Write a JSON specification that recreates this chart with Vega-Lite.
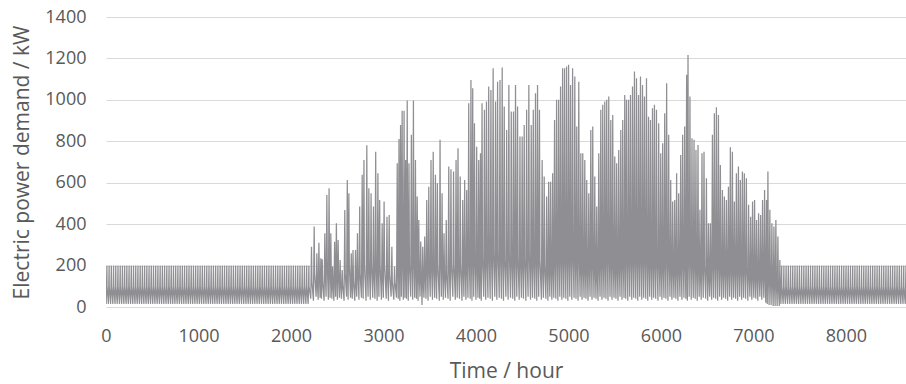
{
"$schema":"https://vega.github.io/schema/vega-lite/v6.json",
"width":800,"height":290,"autosize":"none",
"padding":{"left":106,"top":17,"right":0,"bottom":77},
"background":"white",
"config":{"view":{"stroke":null},"font":"Open Sans"},
"data":{"values":[
{"t":2,"p":15},{"t":10,"p":200},{"t":11,"p":100},
{"t":26,"p":15},{"t":34,"p":200},{"t":35,"p":100},
{"t":50,"p":15},{"t":58,"p":200},{"t":59,"p":100},
{"t":74,"p":15},{"t":82,"p":200},{"t":83,"p":100},
{"t":98,"p":15},{"t":106,"p":200},{"t":107,"p":100},
{"t":122,"p":15},{"t":130,"p":200},{"t":131,"p":100},
{"t":146,"p":15},{"t":154,"p":200},{"t":155,"p":100},
{"t":170,"p":15},{"t":178,"p":200},{"t":179,"p":100},
{"t":194,"p":15},{"t":202,"p":200},{"t":203,"p":100},
{"t":218,"p":15},{"t":226,"p":200},{"t":227,"p":100},
{"t":242,"p":15},{"t":250,"p":200},{"t":251,"p":100},
{"t":266,"p":15},{"t":274,"p":200},{"t":275,"p":100},
{"t":290,"p":15},{"t":298,"p":200},{"t":299,"p":100},
{"t":314,"p":15},{"t":322,"p":200},{"t":323,"p":100},
{"t":338,"p":15},{"t":346,"p":200},{"t":347,"p":100},
{"t":362,"p":15},{"t":370,"p":200},{"t":371,"p":100},
{"t":386,"p":15},{"t":394,"p":200},{"t":395,"p":100},
{"t":410,"p":15},{"t":418,"p":200},{"t":419,"p":100},
{"t":434,"p":15},{"t":442,"p":200},{"t":443,"p":100},
{"t":458,"p":15},{"t":466,"p":200},{"t":467,"p":100},
{"t":482,"p":15},{"t":490,"p":200},{"t":491,"p":100},
{"t":506,"p":15},{"t":514,"p":200},{"t":515,"p":100},
{"t":530,"p":15},{"t":538,"p":200},{"t":539,"p":100},
{"t":554,"p":15},{"t":562,"p":200},{"t":563,"p":100},
{"t":578,"p":15},{"t":586,"p":200},{"t":587,"p":100},
{"t":602,"p":15},{"t":610,"p":200},{"t":611,"p":100},
{"t":626,"p":15},{"t":634,"p":200},{"t":635,"p":100},
{"t":650,"p":15},{"t":658,"p":200},{"t":659,"p":100},
{"t":674,"p":15},{"t":682,"p":200},{"t":683,"p":100},
{"t":698,"p":15},{"t":706,"p":200},{"t":707,"p":100},
{"t":722,"p":15},{"t":730,"p":200},{"t":731,"p":100},
{"t":746,"p":15},{"t":754,"p":200},{"t":755,"p":100},
{"t":770,"p":15},{"t":778,"p":200},{"t":779,"p":100},
{"t":794,"p":15},{"t":802,"p":200},{"t":803,"p":100},
{"t":818,"p":15},{"t":826,"p":200},{"t":827,"p":100},
{"t":842,"p":15},{"t":850,"p":200},{"t":851,"p":100},
{"t":866,"p":15},{"t":874,"p":200},{"t":875,"p":100},
{"t":890,"p":15},{"t":898,"p":200},{"t":899,"p":100},
{"t":914,"p":15},{"t":922,"p":200},{"t":923,"p":100},
{"t":938,"p":15},{"t":946,"p":200},{"t":947,"p":100},
{"t":962,"p":15},{"t":970,"p":200},{"t":971,"p":100},
{"t":986,"p":15},{"t":994,"p":200},{"t":995,"p":100},
{"t":1010,"p":15},{"t":1018,"p":200},{"t":1019,"p":100},
{"t":1034,"p":15},{"t":1042,"p":200},{"t":1043,"p":100},
{"t":1058,"p":15},{"t":1066,"p":200},{"t":1067,"p":100},
{"t":1082,"p":15},{"t":1090,"p":200},{"t":1091,"p":100},
{"t":1106,"p":15},{"t":1114,"p":200},{"t":1115,"p":100},
{"t":1130,"p":15},{"t":1138,"p":200},{"t":1139,"p":100},
{"t":1154,"p":15},{"t":1162,"p":200},{"t":1163,"p":100},
{"t":1178,"p":15},{"t":1186,"p":200},{"t":1187,"p":100},
{"t":1202,"p":15},{"t":1210,"p":200},{"t":1211,"p":100},
{"t":1226,"p":15},{"t":1234,"p":200},{"t":1235,"p":100},
{"t":1250,"p":15},{"t":1258,"p":200},{"t":1259,"p":100},
{"t":1274,"p":15},{"t":1282,"p":200},{"t":1283,"p":100},
{"t":1298,"p":15},{"t":1306,"p":200},{"t":1307,"p":100},
{"t":1322,"p":15},{"t":1330,"p":200},{"t":1331,"p":100},
{"t":1346,"p":15},{"t":1354,"p":200},{"t":1355,"p":100},
{"t":1370,"p":15},{"t":1378,"p":200},{"t":1379,"p":100},
{"t":1394,"p":15},{"t":1402,"p":200},{"t":1403,"p":100},
{"t":1418,"p":15},{"t":1426,"p":200},{"t":1427,"p":100},
{"t":1442,"p":15},{"t":1450,"p":200},{"t":1451,"p":100},
{"t":1466,"p":15},{"t":1474,"p":200},{"t":1475,"p":100},
{"t":1490,"p":15},{"t":1498,"p":200},{"t":1499,"p":100},
{"t":1514,"p":15},{"t":1522,"p":200},{"t":1523,"p":100},
{"t":1538,"p":15},{"t":1546,"p":200},{"t":1547,"p":100},
{"t":1562,"p":15},{"t":1570,"p":200},{"t":1571,"p":100},
{"t":1586,"p":15},{"t":1594,"p":200},{"t":1595,"p":100},
{"t":1610,"p":15},{"t":1618,"p":200},{"t":1619,"p":100},
{"t":1634,"p":15},{"t":1642,"p":200},{"t":1643,"p":100},
{"t":1658,"p":15},{"t":1666,"p":200},{"t":1667,"p":100},
{"t":1682,"p":15},{"t":1690,"p":200},{"t":1691,"p":100},
{"t":1706,"p":15},{"t":1714,"p":200},{"t":1715,"p":100},
{"t":1730,"p":15},{"t":1738,"p":200},{"t":1739,"p":100},
{"t":1754,"p":15},{"t":1762,"p":200},{"t":1763,"p":100},
{"t":1778,"p":15},{"t":1786,"p":200},{"t":1787,"p":100},
{"t":1802,"p":15},{"t":1810,"p":200},{"t":1811,"p":100},
{"t":1826,"p":15},{"t":1834,"p":200},{"t":1835,"p":100},
{"t":1850,"p":15},{"t":1858,"p":200},{"t":1859,"p":100},
{"t":1874,"p":15},{"t":1882,"p":200},{"t":1883,"p":100},
{"t":1898,"p":15},{"t":1906,"p":200},{"t":1907,"p":100},
{"t":1922,"p":15},{"t":1930,"p":200},{"t":1931,"p":100},
{"t":1946,"p":15},{"t":1954,"p":200},{"t":1955,"p":100},
{"t":1970,"p":15},{"t":1978,"p":200},{"t":1979,"p":100},
{"t":1994,"p":15},{"t":2002,"p":200},{"t":2003,"p":100},
{"t":2018,"p":15},{"t":2026,"p":200},{"t":2027,"p":100},
{"t":2042,"p":15},{"t":2050,"p":200},{"t":2051,"p":100},
{"t":2066,"p":15},{"t":2074,"p":200},{"t":2075,"p":100},
{"t":2090,"p":15},{"t":2098,"p":200},{"t":2099,"p":100},
{"t":2114,"p":15},{"t":2122,"p":200},{"t":2123,"p":100},
{"t":2138,"p":15},{"t":2146,"p":200},{"t":2147,"p":100},
{"t":2162,"p":15},{"t":2170,"p":200},{"t":2171,"p":100},
{"t":2186,"p":15},{"t":2194,"p":200},{"t":2195,"p":100},
{"t":2214,"p":40},{"t":2222,"p":291},{"t":2227,"p":120},
{"t":2243,"p":30},{"t":2251,"p":388},{"t":2256,"p":160},
{"t":2272,"p":50},{"t":2280,"p":260},{"t":2285,"p":120},
{"t":2294,"p":35},{"t":2302,"p":310},{"t":2307,"p":160},
{"t":2315,"p":45},{"t":2323,"p":235},{"t":2328,"p":120},
{"t":2330,"p":40},{"t":2338,"p":230},{"t":2343,"p":120},
{"t":2358,"p":30},{"t":2366,"p":356},{"t":2371,"p":160},
{"t":2380,"p":50},{"t":2388,"p":541},{"t":2393,"p":200},
{"t":2404,"p":35},{"t":2412,"p":573},{"t":2417,"p":200},
{"t":2423,"p":45},{"t":2431,"p":356},{"t":2436,"p":160},
{"t":2442,"p":40},{"t":2450,"p":195},{"t":2455,"p":120},
{"t":2464,"p":30},{"t":2472,"p":315},{"t":2477,"p":160},
{"t":2483,"p":50},{"t":2491,"p":404},{"t":2496,"p":160},
{"t":2502,"p":35},{"t":2510,"p":324},{"t":2515,"p":160},
{"t":2524,"p":45},{"t":2532,"p":227},{"t":2537,"p":120},
{"t":2546,"p":40},{"t":2554,"p":179},{"t":2559,"p":110},
{"t":2574,"p":30},{"t":2582,"p":468},{"t":2587,"p":160},
{"t":2601,"p":50},{"t":2609,"p":613},{"t":2614,"p":200},
{"t":2618,"p":35},{"t":2626,"p":549},{"t":2631,"p":200},
{"t":2644,"p":45},{"t":2652,"p":259},{"t":2657,"p":120},
{"t":2663,"p":40},{"t":2671,"p":275},{"t":2676,"p":120},
{"t":2690,"p":30},{"t":2698,"p":275},{"t":2703,"p":120},
{"t":2711,"p":50},{"t":2719,"p":356},{"t":2724,"p":160},
{"t":2735,"p":35},{"t":2743,"p":485},{"t":2748,"p":160},
{"t":2762,"p":45},{"t":2770,"p":638},{"t":2775,"p":200},
{"t":2781,"p":40},{"t":2789,"p":710},{"t":2794,"p":200},
{"t":2812,"p":30},{"t":2820,"p":781},{"t":2825,"p":200},
{"t":2834,"p":50},{"t":2842,"p":573},{"t":2847,"p":200},
{"t":2858,"p":35},{"t":2866,"p":549},{"t":2871,"p":200},
{"t":2884,"p":45},{"t":2892,"p":485},{"t":2897,"p":160},
{"t":2908,"p":40},{"t":2916,"p":749},{"t":2921,"p":200},
{"t":2932,"p":30},{"t":2940,"p":646},{"t":2945,"p":200},
{"t":2951,"p":50},{"t":2959,"p":517},{"t":2964,"p":200},
{"t":2978,"p":35},{"t":2986,"p":404},{"t":2991,"p":160},
{"t":2999,"p":45},{"t":3007,"p":509},{"t":3012,"p":200},
{"t":3030,"p":40},{"t":3038,"p":436},{"t":3043,"p":160},
{"t":3054,"p":30},{"t":3062,"p":444},{"t":3067,"p":160},
{"t":3083,"p":50},{"t":3091,"p":291},{"t":3096,"p":120},
{"t":3112,"p":35},{"t":3120,"p":195},{"t":3125,"p":120},
{"t":3141,"p":45},{"t":3149,"p":694},{"t":3154,"p":200},
{"t":3160,"p":40},{"t":3168,"p":811},{"t":3173,"p":230},
{"t":3177,"p":30},{"t":3185,"p":879},{"t":3190,"p":230},
{"t":3194,"p":50},{"t":3202,"p":948},{"t":3207,"p":230},
{"t":3215,"p":35},{"t":3223,"p":948},{"t":3228,"p":230},
{"t":3232,"p":45},{"t":3240,"p":710},{"t":3245,"p":200},
{"t":3249,"p":40},{"t":3257,"p":997},{"t":3262,"p":230},
{"t":3268,"p":30},{"t":3276,"p":694},{"t":3281,"p":200},
{"t":3294,"p":50},{"t":3302,"p":831},{"t":3307,"p":230},
{"t":3316,"p":35},{"t":3324,"p":997},{"t":3329,"p":230},
{"t":3338,"p":45},{"t":3346,"p":710},{"t":3351,"p":200},
{"t":3357,"p":40},{"t":3365,"p":533},{"t":3370,"p":200},
{"t":3374,"p":30},{"t":3382,"p":420},{"t":3387,"p":160},
{"t":3395,"p":50},{"t":3403,"p":316},{"t":3408,"p":160},
{"t":3417,"p":10},{"t":3425,"p":291},{"t":3430,"p":120},
{"t":3438,"p":45},{"t":3446,"p":340},{"t":3451,"p":160},
{"t":3460,"p":40},{"t":3468,"p":517},{"t":3473,"p":200},
{"t":3482,"p":30},{"t":3490,"p":581},{"t":3495,"p":200},
{"t":3506,"p":50},{"t":3514,"p":710},{"t":3519,"p":200},
{"t":3530,"p":35},{"t":3538,"p":750},{"t":3543,"p":200},
{"t":3554,"p":45},{"t":3562,"p":638},{"t":3567,"p":200},
{"t":3575,"p":40},{"t":3583,"p":597},{"t":3588,"p":200},
{"t":3604,"p":30},{"t":3612,"p":807},{"t":3617,"p":230},
{"t":3626,"p":50},{"t":3634,"p":549},{"t":3639,"p":200},
{"t":3647,"p":35},{"t":3655,"p":356},{"t":3660,"p":160},
{"t":3671,"p":45},{"t":3679,"p":420},{"t":3684,"p":160},
{"t":3698,"p":40},{"t":3706,"p":678},{"t":3711,"p":200},
{"t":3722,"p":30},{"t":3730,"p":665},{"t":3735,"p":200},
{"t":3750,"p":50},{"t":3758,"p":654},{"t":3763,"p":200},
{"t":3777,"p":35},{"t":3785,"p":710},{"t":3790,"p":200},
{"t":3798,"p":45},{"t":3806,"p":766},{"t":3811,"p":200},
{"t":3822,"p":40},{"t":3830,"p":630},{"t":3835,"p":200},
{"t":3849,"p":30},{"t":3857,"p":517},{"t":3862,"p":200},
{"t":3870,"p":50},{"t":3878,"p":613},{"t":3883,"p":200},
{"t":3892,"p":35},{"t":3900,"p":565},{"t":3905,"p":200},
{"t":3914,"p":45},{"t":3922,"p":984},{"t":3927,"p":230},
{"t":3938,"p":40},{"t":3946,"p":1096},{"t":3951,"p":260},
{"t":3957,"p":30},{"t":3965,"p":1056},{"t":3970,"p":260},
{"t":3976,"p":50},{"t":3984,"p":887},{"t":3989,"p":230},
{"t":4000,"p":35},{"t":4008,"p":774},{"t":4013,"p":200},
{"t":4022,"p":45},{"t":4030,"p":710},{"t":4035,"p":200},
{"t":4041,"p":40},{"t":4049,"p":742},{"t":4054,"p":200},
{"t":4058,"p":30},{"t":4066,"p":984},{"t":4071,"p":230},
{"t":4084,"p":50},{"t":4092,"p":952},{"t":4097,"p":230},
{"t":4106,"p":35},{"t":4114,"p":992},{"t":4119,"p":230},
{"t":4130,"p":45},{"t":4138,"p":1064},{"t":4143,"p":260},
{"t":4154,"p":40},{"t":4162,"p":1048},{"t":4167,"p":260},
{"t":4178,"p":30},{"t":4186,"p":1153},{"t":4191,"p":260},
{"t":4204,"p":50},{"t":4212,"p":992},{"t":4217,"p":230},
{"t":4226,"p":35},{"t":4234,"p":1088},{"t":4239,"p":260},
{"t":4252,"p":45},{"t":4260,"p":1096},{"t":4265,"p":260},
{"t":4276,"p":40},{"t":4284,"p":1156},{"t":4289,"p":260},
{"t":4298,"p":30},{"t":4306,"p":968},{"t":4311,"p":230},
{"t":4324,"p":50},{"t":4332,"p":855},{"t":4337,"p":230},
{"t":4348,"p":35},{"t":4356,"p":1072},{"t":4361,"p":260},
{"t":4374,"p":45},{"t":4382,"p":944},{"t":4387,"p":230},
{"t":4398,"p":40},{"t":4406,"p":944},{"t":4411,"p":230},
{"t":4420,"p":30},{"t":4428,"p":1072},{"t":4433,"p":260},
{"t":4442,"p":50},{"t":4450,"p":968},{"t":4455,"p":230},
{"t":4468,"p":35},{"t":4476,"p":823},{"t":4481,"p":230},
{"t":4492,"p":45},{"t":4500,"p":823},{"t":4505,"p":230},
{"t":4514,"p":40},{"t":4522,"p":879},{"t":4527,"p":230},
{"t":4540,"p":30},{"t":4548,"p":952},{"t":4553,"p":230},
{"t":4564,"p":50},{"t":4572,"p":1072},{"t":4577,"p":260},
{"t":4590,"p":35},{"t":4598,"p":879},{"t":4603,"p":230},
{"t":4612,"p":45},{"t":4620,"p":952},{"t":4625,"p":230},
{"t":4636,"p":40},{"t":4644,"p":1032},{"t":4649,"p":260},
{"t":4658,"p":30},{"t":4666,"p":1072},{"t":4671,"p":260},
{"t":4679,"p":50},{"t":4687,"p":952},{"t":4692,"p":230},
{"t":4708,"p":35},{"t":4716,"p":710},{"t":4721,"p":200},
{"t":4730,"p":45},{"t":4738,"p":630},{"t":4743,"p":200},
{"t":4756,"p":40},{"t":4764,"p":533},{"t":4769,"p":200},
{"t":4778,"p":30},{"t":4786,"p":605},{"t":4791,"p":200},
{"t":4799,"p":50},{"t":4807,"p":605},{"t":4812,"p":200},
{"t":4821,"p":35},{"t":4829,"p":646},{"t":4834,"p":200},
{"t":4842,"p":45},{"t":4850,"p":903},{"t":4855,"p":230},
{"t":4864,"p":40},{"t":4872,"p":1000},{"t":4877,"p":260},
{"t":4886,"p":30},{"t":4894,"p":1000},{"t":4899,"p":260},
{"t":4907,"p":50},{"t":4915,"p":1064},{"t":4920,"p":260},
{"t":4929,"p":35},{"t":4937,"p":1153},{"t":4942,"p":260},
{"t":4950,"p":45},{"t":4958,"p":1153},{"t":4963,"p":260},
{"t":4972,"p":40},{"t":4980,"p":1161},{"t":4985,"p":260},
{"t":4994,"p":30},{"t":5002,"p":1169},{"t":5007,"p":260},
{"t":5015,"p":50},{"t":5023,"p":1072},{"t":5028,"p":260},
{"t":5037,"p":35},{"t":5045,"p":1153},{"t":5050,"p":260},
{"t":5061,"p":45},{"t":5069,"p":1113},{"t":5074,"p":260},
{"t":5082,"p":40},{"t":5090,"p":871},{"t":5095,"p":230},
{"t":5104,"p":30},{"t":5112,"p":1088},{"t":5117,"p":260},
{"t":5126,"p":50},{"t":5134,"p":742},{"t":5139,"p":200},
{"t":5147,"p":35},{"t":5155,"p":742},{"t":5160,"p":200},
{"t":5169,"p":45},{"t":5177,"p":710},{"t":5182,"p":200},
{"t":5190,"p":40},{"t":5198,"p":613},{"t":5203,"p":200},
{"t":5212,"p":30},{"t":5220,"p":549},{"t":5225,"p":200},
{"t":5234,"p":50},{"t":5242,"p":855},{"t":5247,"p":230},
{"t":5255,"p":35},{"t":5263,"p":871},{"t":5268,"p":230},
{"t":5277,"p":45},{"t":5285,"p":630},{"t":5290,"p":200},
{"t":5298,"p":40},{"t":5306,"p":485},{"t":5311,"p":160},
{"t":5320,"p":30},{"t":5328,"p":742},{"t":5333,"p":200},
{"t":5342,"p":50},{"t":5350,"p":952},{"t":5355,"p":230},
{"t":5363,"p":35},{"t":5371,"p":976},{"t":5376,"p":230},
{"t":5385,"p":45},{"t":5393,"p":992},{"t":5398,"p":230},
{"t":5406,"p":40},{"t":5414,"p":1000},{"t":5419,"p":260},
{"t":5428,"p":30},{"t":5436,"p":1016},{"t":5441,"p":260},
{"t":5450,"p":50},{"t":5458,"p":903},{"t":5463,"p":230},
{"t":5471,"p":35},{"t":5479,"p":927},{"t":5484,"p":230},
{"t":5493,"p":45},{"t":5501,"p":726},{"t":5506,"p":200},
{"t":5514,"p":40},{"t":5522,"p":694},{"t":5527,"p":200},
{"t":5536,"p":30},{"t":5544,"p":758},{"t":5549,"p":200},
{"t":5558,"p":50},{"t":5566,"p":855},{"t":5571,"p":230},
{"t":5579,"p":35},{"t":5587,"p":903},{"t":5592,"p":230},
{"t":5601,"p":45},{"t":5609,"p":1024},{"t":5614,"p":260},
{"t":5620,"p":40},{"t":5628,"p":1000},{"t":5633,"p":260},
{"t":5642,"p":30},{"t":5650,"p":1000},{"t":5655,"p":260},
{"t":5663,"p":50},{"t":5671,"p":1024},{"t":5676,"p":260},
{"t":5685,"p":35},{"t":5693,"p":1064},{"t":5698,"p":260},
{"t":5706,"p":45},{"t":5714,"p":1137},{"t":5719,"p":260},
{"t":5728,"p":40},{"t":5736,"p":1104},{"t":5741,"p":260},
{"t":5750,"p":30},{"t":5758,"p":1024},{"t":5763,"p":260},
{"t":5771,"p":50},{"t":5779,"p":1113},{"t":5784,"p":260},
{"t":5793,"p":35},{"t":5801,"p":1072},{"t":5806,"p":260},
{"t":5814,"p":45},{"t":5822,"p":1016},{"t":5827,"p":260},
{"t":5836,"p":40},{"t":5844,"p":1104},{"t":5849,"p":260},
{"t":5858,"p":30},{"t":5866,"p":919},{"t":5871,"p":230},
{"t":5879,"p":50},{"t":5887,"p":903},{"t":5892,"p":230},
{"t":5901,"p":35},{"t":5909,"p":960},{"t":5914,"p":230},
{"t":5922,"p":45},{"t":5930,"p":976},{"t":5935,"p":230},
{"t":5944,"p":40},{"t":5952,"p":952},{"t":5957,"p":230},
{"t":5968,"p":30},{"t":5976,"p":887},{"t":5981,"p":230},
{"t":5990,"p":50},{"t":5998,"p":742},{"t":6003,"p":200},
{"t":6011,"p":35},{"t":6019,"p":791},{"t":6024,"p":200},
{"t":6033,"p":45},{"t":6041,"p":935},{"t":6046,"p":230},
{"t":6054,"p":40},{"t":6062,"p":1080},{"t":6067,"p":260},
{"t":6076,"p":30},{"t":6084,"p":831},{"t":6089,"p":230},
{"t":6098,"p":50},{"t":6106,"p":613},{"t":6111,"p":200},
{"t":6119,"p":35},{"t":6127,"p":509},{"t":6132,"p":200},
{"t":6141,"p":45},{"t":6149,"p":517},{"t":6154,"p":200},
{"t":6162,"p":40},{"t":6170,"p":646},{"t":6175,"p":200},
{"t":6184,"p":30},{"t":6192,"p":549},{"t":6197,"p":200},
{"t":6206,"p":50},{"t":6214,"p":734},{"t":6219,"p":200},
{"t":6227,"p":35},{"t":6235,"p":831},{"t":6240,"p":230},
{"t":6249,"p":45},{"t":6257,"p":871},{"t":6262,"p":230},
{"t":6270,"p":40},{"t":6278,"p":1121},{"t":6283,"p":260},
{"t":6286,"p":30},{"t":6293,"p":1217},{"t":6298,"p":260},
{"t":6306,"p":50},{"t":6314,"p":1016},{"t":6319,"p":260},
{"t":6328,"p":35},{"t":6336,"p":815},{"t":6341,"p":230},
{"t":6350,"p":45},{"t":6358,"p":807},{"t":6363,"p":230},
{"t":6371,"p":40},{"t":6379,"p":758},{"t":6384,"p":200},
{"t":6393,"p":30},{"t":6401,"p":782},{"t":6406,"p":200},
{"t":6414,"p":50},{"t":6422,"p":469},{"t":6427,"p":160},
{"t":6436,"p":35},{"t":6444,"p":742},{"t":6449,"p":200},
{"t":6458,"p":45},{"t":6466,"p":750},{"t":6471,"p":200},
{"t":6484,"p":40},{"t":6492,"p":621},{"t":6497,"p":200},
{"t":6506,"p":30},{"t":6514,"p":404},{"t":6519,"p":160},
{"t":6527,"p":50},{"t":6535,"p":404},{"t":6540,"p":160},
{"t":6549,"p":35},{"t":6557,"p":831},{"t":6562,"p":230},
{"t":6570,"p":45},{"t":6578,"p":935},{"t":6583,"p":230},
{"t":6592,"p":40},{"t":6600,"p":964},{"t":6605,"p":230},
{"t":6614,"p":30},{"t":6622,"p":927},{"t":6627,"p":230},
{"t":6635,"p":50},{"t":6643,"p":686},{"t":6648,"p":200},
{"t":6657,"p":35},{"t":6665,"p":565},{"t":6670,"p":200},
{"t":6678,"p":45},{"t":6686,"p":533},{"t":6691,"p":200},
{"t":6700,"p":40},{"t":6708,"p":517},{"t":6713,"p":200},
{"t":6722,"p":30},{"t":6730,"p":581},{"t":6735,"p":200},
{"t":6743,"p":50},{"t":6751,"p":771},{"t":6756,"p":200},
{"t":6765,"p":35},{"t":6773,"p":750},{"t":6778,"p":200},
{"t":6786,"p":45},{"t":6794,"p":509},{"t":6799,"p":200},
{"t":6808,"p":40},{"t":6816,"p":646},{"t":6821,"p":200},
{"t":6830,"p":30},{"t":6838,"p":678},{"t":6843,"p":200},
{"t":6851,"p":50},{"t":6859,"p":613},{"t":6864,"p":200},
{"t":6873,"p":35},{"t":6881,"p":654},{"t":6886,"p":200},
{"t":6894,"p":45},{"t":6902,"p":646},{"t":6907,"p":200},
{"t":6916,"p":40},{"t":6924,"p":621},{"t":6929,"p":200},
{"t":6940,"p":30},{"t":6948,"p":493},{"t":6953,"p":160},
{"t":6962,"p":50},{"t":6970,"p":436},{"t":6975,"p":160},
{"t":6983,"p":35},{"t":6991,"p":509},{"t":6996,"p":160},
{"t":7005,"p":45},{"t":7013,"p":517},{"t":7018,"p":160},
{"t":7026,"p":40},{"t":7034,"p":420},{"t":7039,"p":160},
{"t":7048,"p":30},{"t":7056,"p":452},{"t":7061,"p":160},
{"t":7070,"p":50},{"t":7078,"p":444},{"t":7083,"p":160},
{"t":7091,"p":35},{"t":7099,"p":517},{"t":7104,"p":160},
{"t":7113,"p":45},{"t":7121,"p":565},{"t":7126,"p":160},
{"t":7134,"p":20},{"t":7142,"p":517},{"t":7147,"p":160},
{"t":7150,"p":15},{"t":7157,"p":654},{"t":7162,"p":160},
{"t":7170,"p":10},{"t":7178,"p":469},{"t":7183,"p":140},
{"t":7192,"p":10},{"t":7200,"p":404},{"t":7205,"p":140},
{"t":7214,"p":5},{"t":7222,"p":388},{"t":7227,"p":120},
{"t":7235,"p":5},{"t":7243,"p":420},{"t":7248,"p":120},
{"t":7257,"p":5},{"t":7265,"p":340},{"t":7270,"p":100},
{"t":7280,"p":5},{"t":7286,"p":227},{"t":7291,"p":80},
{"t":7298,"p":15},{"t":7306,"p":200},{"t":7307,"p":100},
{"t":7322,"p":15},{"t":7330,"p":200},{"t":7331,"p":100},
{"t":7346,"p":15},{"t":7354,"p":200},{"t":7355,"p":100},
{"t":7370,"p":15},{"t":7378,"p":200},{"t":7379,"p":100},
{"t":7394,"p":15},{"t":7402,"p":200},{"t":7403,"p":100},
{"t":7418,"p":15},{"t":7426,"p":200},{"t":7427,"p":100},
{"t":7442,"p":15},{"t":7450,"p":200},{"t":7451,"p":100},
{"t":7466,"p":15},{"t":7474,"p":200},{"t":7475,"p":100},
{"t":7490,"p":15},{"t":7498,"p":200},{"t":7499,"p":100},
{"t":7514,"p":15},{"t":7522,"p":200},{"t":7523,"p":100},
{"t":7538,"p":15},{"t":7546,"p":200},{"t":7547,"p":100},
{"t":7562,"p":15},{"t":7570,"p":200},{"t":7571,"p":100},
{"t":7586,"p":15},{"t":7594,"p":200},{"t":7595,"p":100},
{"t":7610,"p":15},{"t":7618,"p":200},{"t":7619,"p":100},
{"t":7634,"p":15},{"t":7642,"p":200},{"t":7643,"p":100},
{"t":7658,"p":15},{"t":7666,"p":200},{"t":7667,"p":100},
{"t":7682,"p":15},{"t":7690,"p":200},{"t":7691,"p":100},
{"t":7706,"p":15},{"t":7714,"p":200},{"t":7715,"p":100},
{"t":7730,"p":15},{"t":7738,"p":200},{"t":7739,"p":100},
{"t":7754,"p":15},{"t":7762,"p":200},{"t":7763,"p":100},
{"t":7778,"p":15},{"t":7786,"p":200},{"t":7787,"p":100},
{"t":7802,"p":15},{"t":7810,"p":200},{"t":7811,"p":100},
{"t":7826,"p":15},{"t":7834,"p":200},{"t":7835,"p":100},
{"t":7850,"p":15},{"t":7858,"p":200},{"t":7859,"p":100},
{"t":7874,"p":15},{"t":7882,"p":200},{"t":7883,"p":100},
{"t":7898,"p":15},{"t":7906,"p":200},{"t":7907,"p":100},
{"t":7922,"p":15},{"t":7930,"p":200},{"t":7931,"p":100},
{"t":7946,"p":15},{"t":7954,"p":200},{"t":7955,"p":100},
{"t":7970,"p":15},{"t":7978,"p":200},{"t":7979,"p":100},
{"t":7994,"p":15},{"t":8002,"p":200},{"t":8003,"p":100},
{"t":8018,"p":15},{"t":8026,"p":200},{"t":8027,"p":100},
{"t":8042,"p":15},{"t":8050,"p":200},{"t":8051,"p":100},
{"t":8066,"p":15},{"t":8074,"p":200},{"t":8075,"p":100},
{"t":8090,"p":15},{"t":8098,"p":200},{"t":8099,"p":100},
{"t":8114,"p":15},{"t":8122,"p":200},{"t":8123,"p":100},
{"t":8138,"p":15},{"t":8146,"p":200},{"t":8147,"p":100},
{"t":8162,"p":15},{"t":8170,"p":200},{"t":8171,"p":100},
{"t":8186,"p":15},{"t":8194,"p":200},{"t":8195,"p":100},
{"t":8210,"p":15},{"t":8218,"p":200},{"t":8219,"p":100},
{"t":8234,"p":15},{"t":8242,"p":200},{"t":8243,"p":100},
{"t":8258,"p":15},{"t":8266,"p":200},{"t":8267,"p":100},
{"t":8282,"p":15},{"t":8290,"p":200},{"t":8291,"p":100},
{"t":8306,"p":15},{"t":8314,"p":200},{"t":8315,"p":100},
{"t":8330,"p":15},{"t":8338,"p":200},{"t":8339,"p":100},
{"t":8354,"p":15},{"t":8362,"p":200},{"t":8363,"p":100},
{"t":8378,"p":15},{"t":8386,"p":200},{"t":8387,"p":100},
{"t":8402,"p":15},{"t":8410,"p":200},{"t":8411,"p":100},
{"t":8426,"p":15},{"t":8434,"p":200},{"t":8435,"p":100},
{"t":8450,"p":15},{"t":8458,"p":200},{"t":8459,"p":100},
{"t":8474,"p":15},{"t":8482,"p":200},{"t":8483,"p":100},
{"t":8498,"p":15},{"t":8506,"p":200},{"t":8507,"p":100},
{"t":8522,"p":15},{"t":8530,"p":200},{"t":8531,"p":100},
{"t":8546,"p":15},{"t":8554,"p":200},{"t":8555,"p":100},
{"t":8570,"p":15},{"t":8578,"p":200},{"t":8579,"p":100},
{"t":8594,"p":15},{"t":8602,"p":200},{"t":8603,"p":100},
{"t":8618,"p":15},{"t":8626,"p":200},{"t":8627,"p":100},
{"t":8642,"p":15},{"t":8650,"p":200},{"t":8651,"p":100},
{"t":8666,"p":15},{"t":8674,"p":200},{"t":8675,"p":100},
{"t":8690,"p":15},{"t":8698,"p":200},{"t":8699,"p":100},
{"t":8714,"p":15},{"t":8722,"p":200},{"t":8723,"p":100},
{"t":8738,"p":15},{"t":8746,"p":200},{"t":8747,"p":100}
]},
"mark":{"type":"line","color":"#8f8f93","strokeWidth":1.25,"clip":true},
"encoding":{
"x":{"field":"t","type":"quantitative","scale":{"domain":[0,8650],"nice":false,"zero":false},
"axis":{"title":"Time / hour","values":[0,1000,2000,3000,4000,5000,6000,7000,8000],"format":"d","grid":false,"domain":false,"ticks":false,"tickSize":0,"labelPadding":20,"labelFlush":false,"labelFontSize":18,"labelColor":"#595959","labelFont":"Open Sans","titleFont":"Open Sans","titleFontSize":21,"titleColor":"#595959","titleFontWeight":"normal","titlePadding":15}},
"y":{"field":"p","type":"quantitative","scale":{"domain":[0,1400],"nice":false},
"axis":{"title":"Electric power demand / kW","values":[0,200,400,600,800,1000,1200,1400],"format":"d","grid":true,"gridColor":"#d9d9d9","gridWidth":1,"domain":false,"ticks":false,"tickSize":0,"labelPadding":20,"labelFontSize":18,"labelColor":"#595959","labelFont":"Open Sans","titleFont":"Open Sans","titleFontSize":21,"titleColor":"#595959","titleFontWeight":"normal","titlePadding":12}}
}
}
